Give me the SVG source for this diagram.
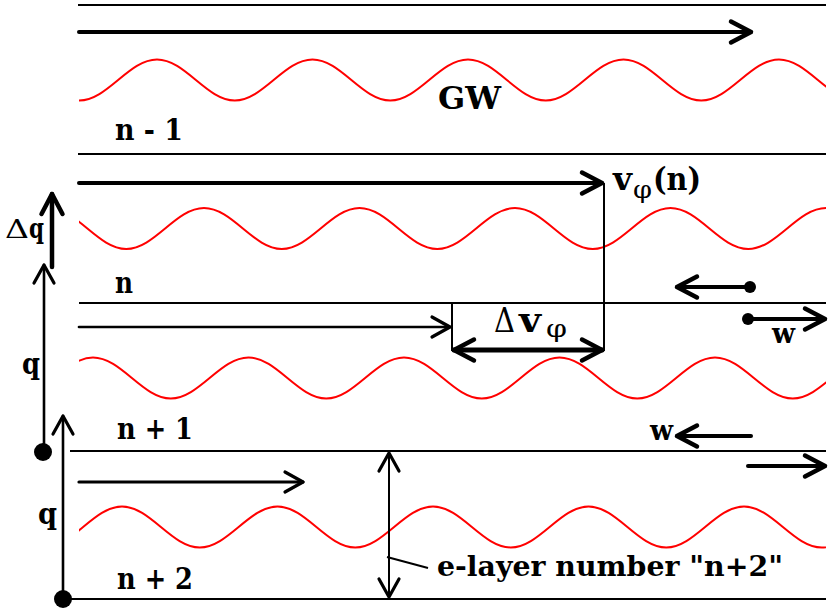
<svg xmlns="http://www.w3.org/2000/svg" xmlns:xlink="http://www.w3.org/1999/xlink" width="830" height="615" viewBox="0 0 830 615">
<style>
.lay{stroke:#000;stroke-width:2;fill:none}
.wave{stroke:#ff0000;stroke-width:2;fill:none}
text{font-family:'DejaVu Serif',serif;font-weight:bold;fill:#000}
.r{font-weight:normal}
.ar{stroke:#000;fill:none;stroke-linecap:round}
.thin{stroke:#000;fill:none;stroke-width:2}
</style>
<defs>
<marker id="hk" markerUnits="userSpaceOnUse" viewBox="-26 -14 30 28" markerWidth="30" markerHeight="28" refX="0" refY="0" orient="auto-start-reverse" overflow="visible">
<path d="M-20,-10.5 L0,0 L-20,10.5" fill="none" stroke="#000" stroke-width="4.5" stroke-linecap="round" stroke-linejoin="round"/>
</marker>
<marker id="hn" markerUnits="userSpaceOnUse" viewBox="-26 -14 30 28" markerWidth="30" markerHeight="28" refX="0" refY="0" orient="auto-start-reverse" overflow="visible">
<path d="M-18,-10 L0,0 L-18,10" fill="none" stroke="#000" stroke-width="3.2" stroke-linecap="round" stroke-linejoin="round"/>
</marker>
<path id="wv" d="M-311,-20.5 c28.3,0 49.45,41 77.75,41 c28.3,0 49.45,-41 77.75,-41 c28.3,0 49.45,41 77.75,41 c28.3,0 49.45,-41 77.75,-41 c28.3,0 49.45,41 77.75,41 c28.3,0 49.45,-41 77.75,-41 c28.3,0 49.45,41 77.75,41 c28.3,0 49.45,-41 77.75,-41 c28.3,0 49.45,41 77.75,41 c28.3,0 49.45,-41 77.75,-41 c28.3,0 49.45,41 77.75,41 c28.3,0 49.45,-41 77.75,-41 c28.3,0 49.45,41 77.75,41 c28.3,0 49.45,-41 77.75,-41"/>
<clipPath id="cl" clipPathUnits="userSpaceOnUse"><rect x="79" y="0" width="747" height="615"/></clipPath>
</defs>

<g id="layer-lines">
<line class="lay" x1="78" y1="5" x2="826" y2="5"/>
<line class="lay" x1="78" y1="154" x2="826" y2="154"/>
<line class="lay" x1="79" y1="303" x2="826" y2="303"/>
<line class="lay" x1="70" y1="451" x2="826" y2="451"/>
<line class="lay" x1="63" y1="599" x2="826" y2="599"/>
</g>

<g id="waves" clip-path="url(#cl)">
<use xlink:href="#wv" class="wave" transform="translate(157,80)"/>
<use xlink:href="#wv" class="wave" transform="translate(204,228.5)"/>
<use xlink:href="#wv" class="wave" transform="translate(93,378)"/>
<use xlink:href="#wv" class="wave" transform="translate(122,527)"/>
</g>

<g id="layer-n-1">
<text x="115" y="140" font-size="30" textLength="68" lengthAdjust="spacingAndGlyphs">n - 1</text>
<text x="438" y="109" font-size="32" textLength="63" lengthAdjust="spacingAndGlyphs">GW</text>
</g>
<g id="layer-n">
<text x="115" y="293" font-size="30" textLength="18" lengthAdjust="spacingAndGlyphs">n</text>
<text x="613" y="190" font-size="32" textLength="19" lengthAdjust="spacingAndGlyphs">v</text>
<text class="r" x="633" y="198" font-size="24" textLength="19" lengthAdjust="spacingAndGlyphs">φ</text>
<text x="653" y="190" font-size="32" textLength="48" lengthAdjust="spacingAndGlyphs">(n)</text>
</g>
<g id="layer-n+1">
<text x="117" y="439" font-size="30" textLength="76" lengthAdjust="spacingAndGlyphs">n + 1</text>
<text class="r" x="494" y="332" font-size="34" textLength="21" lengthAdjust="spacingAndGlyphs">Δ</text>
<text x="519" y="332" font-size="34" textLength="22" lengthAdjust="spacingAndGlyphs">v</text>
<text class="r" x="546" y="337" font-size="25" textLength="21" lengthAdjust="spacingAndGlyphs">φ</text>
</g>
<g id="layer-n+2">
<text x="117" y="589" font-size="30" textLength="76" lengthAdjust="spacingAndGlyphs">n + 2</text>
<text x="437" y="576" font-size="28.5" textLength="346" lengthAdjust="spacingAndGlyphs">e-layer number "n+2"</text>
</g>
<g id="side-labels">
<text class="r" x="5" y="238" font-size="26" textLength="24" lengthAdjust="spacingAndGlyphs">Δ</text>
<text x="29" y="238" font-size="27" textLength="15" lengthAdjust="spacingAndGlyphs">q</text>
<text x="22" y="374" font-size="30" textLength="18" lengthAdjust="spacingAndGlyphs">q</text>
<text x="38" y="524" font-size="30" textLength="19" lengthAdjust="spacingAndGlyphs">q</text>
<text x="772" y="343" font-size="28" textLength="23" lengthAdjust="spacingAndGlyphs">w</text>
<text x="650" y="440" font-size="28" textLength="23" lengthAdjust="spacingAndGlyphs">w</text>
</g>

<g id="connectors">
<line class="ar" x1="79" y1="32" x2="751" y2="32" stroke-width="4" marker-end="url(#hk)"/>
<line class="ar" x1="79" y1="183" x2="602" y2="183" stroke-width="4" marker-end="url(#hk)"/>
<line class="thin" x1="604" y1="183" x2="604" y2="351"/>
<line class="thin" x1="452" y1="302" x2="452" y2="351"/>
<line class="ar" x1="79" y1="327" x2="450" y2="327" stroke-width="2.7" marker-end="url(#hn)"/>
<line class="ar" x1="454" y1="350" x2="602" y2="350" stroke-width="5" marker-start="url(#hk)" marker-end="url(#hk)"/>
<line class="ar" x1="79" y1="482" x2="303" y2="482" stroke-width="3.2" marker-end="url(#hn)"/>
<line class="ar" x1="52" y1="267" x2="52" y2="194" stroke-width="4.5" marker-end="url(#hk)"/>
<line class="ar" x1="44" y1="452" x2="44" y2="265" stroke-width="2.6" marker-end="url(#hn)"/>
<circle cx="43" cy="452" r="9" fill="#000"/>
<line class="ar" x1="63" y1="599" x2="63" y2="416" stroke-width="2.6" marker-end="url(#hn)"/>
<circle cx="63" cy="599" r="9" fill="#000"/>
<line class="ar" x1="389" y1="453" x2="389" y2="597" stroke-width="2" marker-start="url(#hn)" marker-end="url(#hn)"/>
<line class="thin" x1="387" y1="557" x2="428" y2="568"/>
<line class="ar" x1="750" y1="287" x2="677" y2="287" stroke-width="4" marker-end="url(#hk)"/>
<circle cx="750" cy="287" r="6" fill="#000"/>
<line class="ar" x1="748" y1="319" x2="825" y2="319" stroke-width="4" marker-end="url(#hk)"/>
<circle cx="748" cy="319" r="6" fill="#000"/>
<line class="ar" x1="751" y1="436" x2="677" y2="436" stroke-width="4" marker-end="url(#hk)"/>
<line class="ar" x1="748" y1="466" x2="825" y2="466" stroke-width="4" marker-end="url(#hk)"/>
</g>
</svg>
